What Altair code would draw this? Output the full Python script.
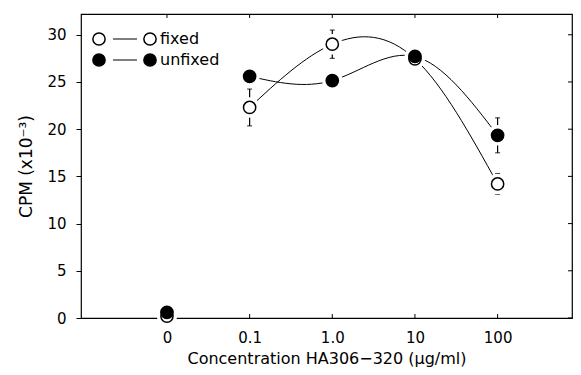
import json
import altair as alt
import pandas as pd

# ---- data ----
categories = ["0", "0.1", "1.0", "10", "100"]
fixed_mean = [0.2, 22.3, 29.0, 27.45, 14.2]
fixed_err = [0.0, 1.95, 1.5, 0.0, 1.1]
unfixed_mean = [0.6, 25.6, 25.15, 27.7, 19.35]
unfixed_err = [0.0, 0.0, 0.0, 0.0, 1.85]
y_ticks = [0, 5, 10, 15, 20, 25, 30]
series_names = ["fixed", "unfixed"]

rows = []
for name, means, errs in [("fixed", fixed_mean, fixed_err), ("unfixed", unfixed_mean, unfixed_err)]:
    for i, (c, m, e) in enumerate(zip(categories, means, errs)):
        rows.append({"series": name, "cat": c, "pos": i + 1, "y": m,
                     "lo": m - e, "hi": m + e, "has_err": e > 0})
df = pd.DataFrame(rows)
curve_df = df[df["cat"] != "0"]
err_df = df[df["has_err"]]
cat_df = pd.DataFrame({"pos": [i + 1 for i in range(len(categories))]})
ytick_df = pd.DataFrame({"v": y_ticks})

W, H = 491, 304
FONT = "DejaVu Sans"

xscale = alt.Scale(domain=[-0.04, 5.9], nice=False, zero=False)
yscale = alt.Scale(domain=[0, 32.2], nice=False, zero=True)
label_expr = json.dumps([""] + categories) + "[datum.value]"

x_enc = alt.X("pos:Q", scale=xscale,
              axis=alt.Axis(values=[1, 2, 3, 4, 5], labelExpr=label_expr, ticks=False,
                            domain=False, grid=False, labelPadding=12,
                            title="Concentration HA306\u2212320 (\u03bcg/ml)", titlePadding=5,
                            titleFontSize=16))
y_enc = alt.Y("y:Q", scale=yscale,
              axis=alt.Axis(values=y_ticks, tickSize=5, labelPadding=10, domain=False,
                            grid=False, title="CPM (x10\u207b\u00b3)", titlePadding=11,
                            titleFontSize=17))

base = alt.Chart(df)

lines = alt.Chart(curve_df).mark_line(interpolate="natural", color="black", strokeWidth=1).encode(
    x=x_enc, y=y_enc, detail="series:N")

err_rules = alt.Chart(err_df).mark_rule(color="black", strokeWidth=1.2).encode(
    x="pos:Q", y="lo:Q", y2="hi:Q")
err_caps_hi = alt.Chart(err_df).mark_tick(color="black", orient="horizontal", size=5, thickness=1.2).encode(
    x="pos:Q", y="hi:Q")
err_caps_lo = alt.Chart(err_df).mark_tick(color="black", orient="horizontal", size=5, thickness=1.2).encode(
    x="pos:Q", y="lo:Q")

halo = base.mark_point(shape="circle", filled=True, color="white", size=420, opacity=1).encode(
    x="pos:Q", y="y:Q")

fixed_pts = alt.Chart(df[df["series"] == "fixed"]).mark_point(
    shape="circle", filled=True, fill="white", stroke="black", strokeWidth=1.5, size=150, opacity=1
).encode(x="pos:Q", y="y:Q")
unfixed_pts = alt.Chart(df[df["series"] == "unfixed"]).mark_point(
    shape="circle", filled=True, fill="black", stroke="black", strokeWidth=1.5, size=150, opacity=1
).encode(x="pos:Q", y="y:Q")

# inward ticks on the frame
top_ticks = alt.Chart(cat_df).mark_rule(color="black").encode(
    x="pos:Q", y=alt.value(0), y2=alt.value(4))
bot_ticks = alt.Chart(cat_df).mark_rule(color="black").encode(
    x="pos:Q", y=alt.value(H), y2=alt.value(H - 4))
right_ticks = alt.Chart(ytick_df).mark_rule(color="black").encode(
    y="v:Q", x=alt.value(W), x2=alt.value(W - 4))

# manual legend
leg_df = pd.DataFrame({"series": series_names, "row": [0, 1]})
leg = alt.Chart(leg_df)
leg_y = {"fixed": 25, "unfixed": 46}
legend_layers = []
for name, fillc in [("fixed", "white"), ("unfixed", "black")]:
    d = leg.transform_filter(alt.datum.series == name)
    yv = leg_y[name]
    legend_layers.append(d.mark_rule(color="black", strokeWidth=1).encode(
        x=alt.value(32), x2=alt.value(56), y=alt.value(yv)))
    for xv in (18, 69):
        legend_layers.append(d.mark_point(shape="circle", filled=True, fill=fillc, stroke="black",
                                          strokeWidth=1.5, size=150, opacity=1).encode(
            x=alt.value(xv), y=alt.value(yv)))
    legend_layers.append(d.mark_text(align="left", baseline="middle", font=FONT, fontSize=16,
                                     color="black").encode(
        x=alt.value(79), y=alt.value(yv), text="series:N"))

chart = alt.layer(
    lines, err_rules, err_caps_hi, err_caps_lo, halo, fixed_pts, unfixed_pts,
    top_ticks, bot_ticks, right_ticks, *legend_layers
).properties(
    width=W, height=H,
    autosize=alt.AutoSizeParams(type="none"),
    padding={"left": 73, "top": 6, "right": 1, "bottom": 49},
    background="white",
).configure_view(
    stroke="black", strokeWidth=1.2
).configure_axis(
    labelFont=FONT, titleFont=FONT, labelFontSize=15,
    labelColor="black", titleColor="black", tickColor="black", titleFontWeight="normal",
)

chart.save("out.html", embed_options={"renderer": "svg", "actions": False})
